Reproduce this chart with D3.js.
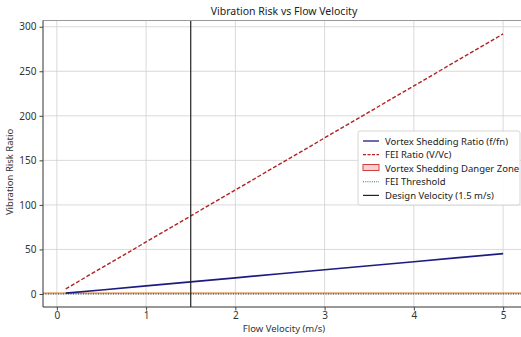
<!DOCTYPE html>
<html>
<head>
<meta charset="utf-8">
<script src="https://cdn.jsdelivr.net/npm/d3@7"></script>
<style>
  body { margin: 0; background: #fff; }
  svg { display: block; font-family: "Noto Sans", "DejaVu Sans", sans-serif; }
</style>
</head>
<body>
<div id="chart"></div>
<script>
// velocities (m/s) and the two ratios
var velocity = [0.1, 0.5, 1.0, 1.5, 2.0, 2.5, 3.0, 3.5, 4.0, 4.5, 5.0];
var vortexRatio = [0.9, 4.5, 9.1, 13.6, 18.1, 22.7, 27.2, 31.7, 36.2, 40.8, 45.3];
var feiRatio = [5.8, 29.2, 58.4, 87.6, 116.8, 146.0, 175.2, 204.4, 233.6, 262.8, 292.0];
var dangerZone = [0.8, 1.2];
var feiThreshold = 1.0;
var designVelocity = 1.5;
var xTicks = [0, 1, 2, 3, 4, 5];
var yTicks = [0, 50, 100, 150, 200, 250, 300];
var legendLabels = ["Vortex Shedding Ratio (f/fn)", "FEI Ratio (V/Vc)", "Vortex Shedding Danger Zone", "FEI Threshold", "Design Velocity (1.5 m/s)"];

var width = 521, height = 337;
var margin = {top: 20.5, right: -4, bottom: 30, left: 43};

var svg = d3.select("#chart").append("svg")
    .attr("width", width)
    .attr("height", height);

var x = d3.scaleLinear().domain([-0.155, 5.245]).range([margin.left, width - margin.right]);
var y = d3.scaleLinear().domain([-14.6, 307]).range([height - margin.bottom, margin.top]);

var defs = svg.append("defs");
defs.append("clipPath").attr("id", "clip")
    .append("rect")
    .attr("x", margin.left).attr("y", margin.top)
    .attr("width", width - margin.right - margin.left)
    .attr("height", height - margin.bottom - margin.top);

// grid
var grid = svg.append("g").attr("stroke", "#d0d0d0").attr("stroke-width", 0.8);
grid.selectAll(".gx").data(xTicks).join("line")
    .attr("x1", d => x(d)).attr("x2", d => x(d))
    .attr("y1", margin.top).attr("y2", height - margin.bottom);
grid.selectAll(".gy").data(yTicks).join("line")
    .attr("x1", margin.left).attr("x2", width)
    .attr("y1", d => y(d)).attr("y2", d => y(d));

var plot = svg.append("g").attr("clip-path", "url(#clip)");

// danger zone band
plot.append("rect")
    .attr("x", margin.left).attr("width", width - margin.left)
    .attr("y", y(dangerZone[1]))
    .attr("height", y(dangerZone[0]) - y(dangerZone[1]))
    .attr("fill", "rgba(240,120,120,0.3)")
    .attr("stroke", "#e8914a").attr("stroke-width", 1);

// FEI threshold
plot.append("line")
    .attr("x1", margin.left).attr("x2", width)
    .attr("y1", y(feiThreshold) + 0.8).attr("y2", y(feiThreshold) + 0.8)
    .attr("stroke", "#4a5a3a").attr("stroke-width", 1.2)
    .attr("stroke-dasharray", "1,1.5");

var line = d3.line().x((d, i) => x(velocity[i])).y(d => y(d));

plot.append("path").datum(feiRatio)
    .attr("d", line)
    .attr("fill", "none")
    .attr("stroke", "#b22222").attr("stroke-width", 1.4)
    .attr("stroke-dasharray", "4,2");

plot.append("path").datum(vortexRatio)
    .attr("d", line)
    .attr("fill", "none")
    .attr("stroke", "#1c1c80").attr("stroke-width", 1.7);

// design velocity
plot.append("line")
    .attr("x1", x(designVelocity)).attr("x2", x(designVelocity))
    .attr("y1", margin.top).attr("y2", height - margin.bottom)
    .attr("stroke", "#222").attr("stroke-width", 1.2);

// frame
svg.append("line").attr("x1", margin.left).attr("x2", width)
    .attr("y1", margin.top).attr("y2", margin.top)
    .attr("stroke", "#999").attr("stroke-width", 1);
svg.append("line").attr("x1", margin.left).attr("x2", margin.left)
    .attr("y1", margin.top).attr("y2", height - margin.bottom)
    .attr("stroke", "#333").attr("stroke-width", 1);
svg.append("line").attr("x1", margin.left).attr("x2", width)
    .attr("y1", height - margin.bottom).attr("y2", height - margin.bottom)
    .attr("stroke", "#333").attr("stroke-width", 1);

// axes
var xAxis = svg.append("g")
    .attr("transform", "translate(0," + (height - margin.bottom) + ")")
    .call(d3.axisBottom(x).tickValues(xTicks).tickSize(3.5).tickPadding(1.5).tickFormat(d3.format("d")));
var yAxis = svg.append("g")
    .attr("transform", "translate(" + margin.left + ",0)")
    .call(d3.axisLeft(y).tickValues(yTicks).tickSize(3.5).tickPadding(3).tickFormat(d3.format("d")));
[xAxis, yAxis].forEach(function(a) {
    a.select(".domain").remove();
    a.selectAll("line").attr("stroke", "#444");
    a.selectAll("text").attr("fill", "#333").style("font-size", "10px")
        .style("font-family", "'Noto Sans', 'DejaVu Sans', sans-serif");
});

// labels
svg.append("text")
    .attr("x", 284).attr("y", 15)
    .attr("text-anchor", "middle")
    .attr("fill", "#222").style("font-size", "10.5px")
    .text("Vibration Risk vs Flow Velocity");
svg.append("text")
    .attr("x", 284).attr("y", 332)
    .attr("text-anchor", "middle")
    .attr("fill", "#333").style("font-size", "9.5px")
    .text("Flow Velocity (m/s)");
svg.append("text")
    .attr("transform", "translate(13," + y(137) + ") rotate(-90)")
    .attr("text-anchor", "middle")
    .attr("fill", "#333").style("font-size", "9.5px")
    .text("Vibration Risk Ratio");

// legend
var lg = svg.append("g").attr("transform", "translate(358,131)");
lg.append("rect")
    .attr("width", 162).attr("height", 74).attr("rx", 2)
    .attr("fill", "rgba(255,255,255,0.9)")
    .attr("stroke", "#ccc").attr("stroke-width", 0.8);
var item = lg.selectAll(".item").data(legendLabels).join("g")
    .attr("transform", (d, i) => "translate(0," + (10 + i * 13.6) + ")");
item.append("text")
    .attr("x", 27).attr("y", 3.5)
    .attr("fill", "#222").style("font-size", "9.5px")
    .text(d => d);
lg.append("line").attr("x1", 5).attr("x2", 21).attr("y1", 10).attr("y2", 10)
    .attr("stroke", "#1c1c80").attr("stroke-width", 1.3);
lg.append("line").attr("x1", 5).attr("x2", 21).attr("y1", 23.6).attr("y2", 23.6)
    .attr("stroke", "#b22222").attr("stroke-width", 1.4).attr("stroke-dasharray", "3,1.5");
lg.append("rect").attr("x", 5).attr("y", 33.5).attr("width", 16).attr("height", 6)
    .attr("fill", "rgba(240,120,120,0.35)").attr("stroke", "#d04040").attr("stroke-width", 1);
lg.append("line").attr("x1", 5).attr("x2", 21).attr("y1", 50.8).attr("y2", 50.8)
    .attr("stroke", "#3a7a3a").attr("stroke-width", 1.1).attr("stroke-dasharray", "1,1.2");
lg.append("line").attr("x1", 5).attr("x2", 21).attr("y1", 64.4).attr("y2", 64.4)
    .attr("stroke", "#222").attr("stroke-width", 1.2);
</script>
</body>
</html>
